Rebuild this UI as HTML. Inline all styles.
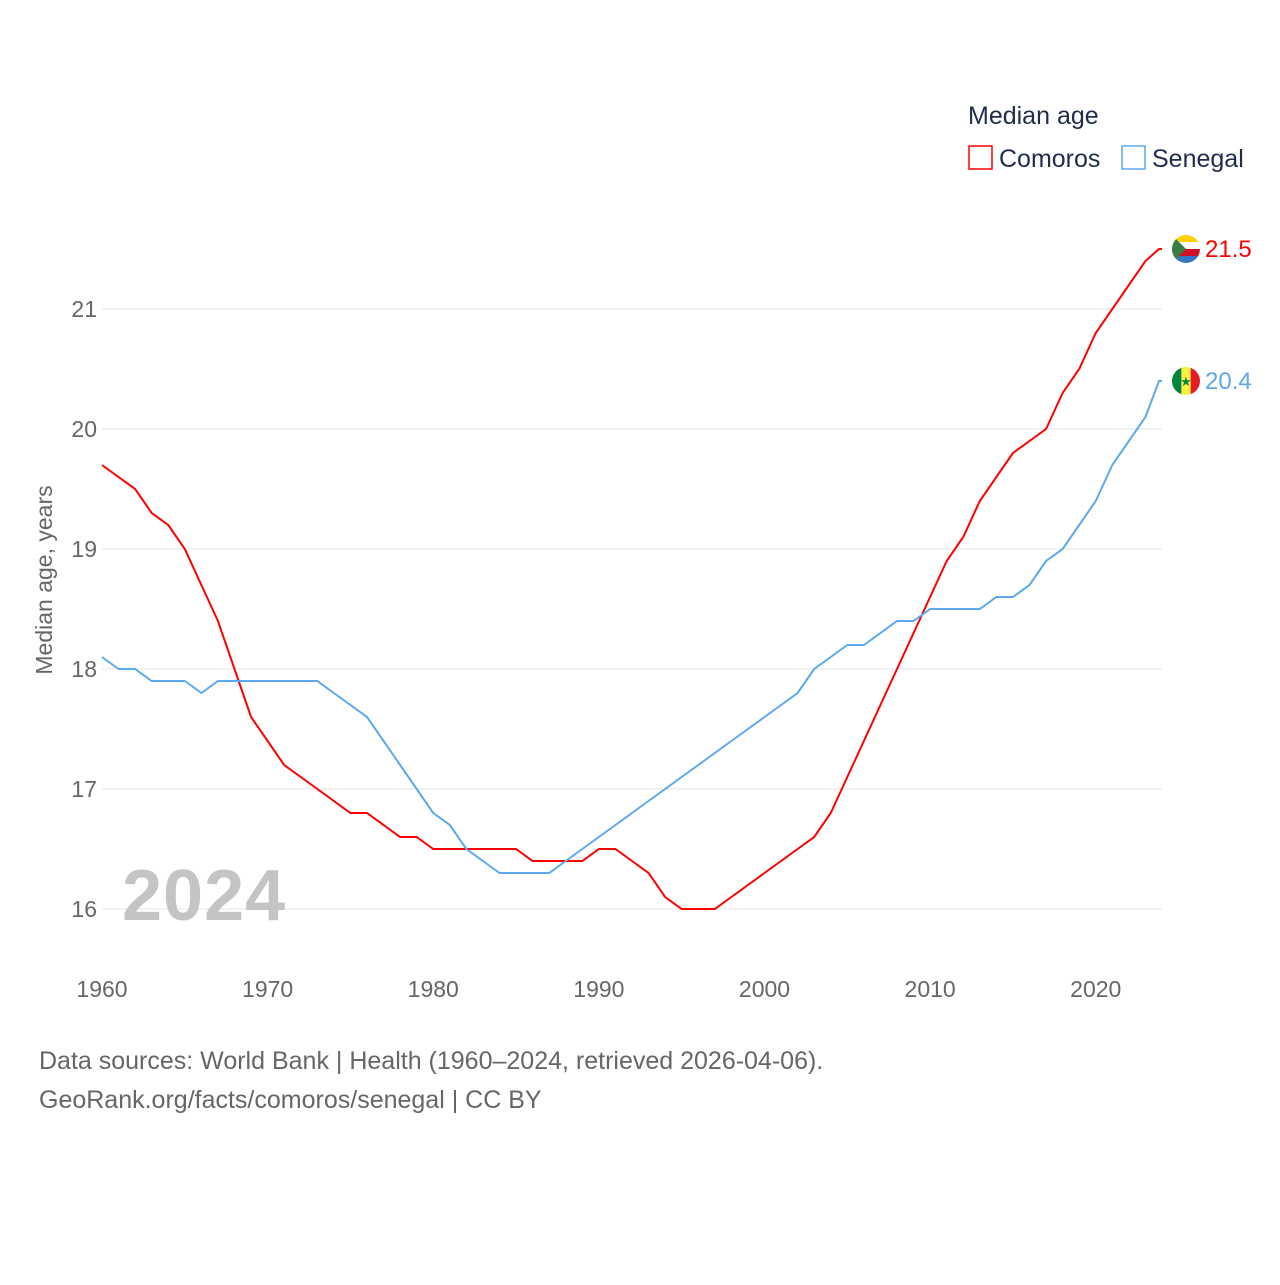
<!DOCTYPE html>
<html><head><meta charset="utf-8"><style>
body{margin:0;background:#fff;font-family:"Liberation Sans",sans-serif;}
svg text{font-family:"Liberation Sans",sans-serif;}
</style></head><body>
<svg width="1280" height="1280" xmlns="http://www.w3.org/2000/svg">
<defs>
<clipPath id="cc"><circle cx="0" cy="0" r="14"/></clipPath>
</defs>
<g id="grid"></g><g id="lines"></g>
<text x="968" y="124" font-size="25" fill="#1f2d4d">Median age</text>
<rect x="969" y="146" width="23" height="23" fill="none" stroke="#ff0000" stroke-width="1.5"/>
<text x="999" y="167" font-size="25" fill="#1f2d4d">Comoros</text>
<rect x="1122" y="146" width="23" height="23" fill="none" stroke="#5ea8ee" stroke-width="1.5"/>
<text x="1152" y="167" font-size="25" fill="#1f2d4d">Senegal</text>
<text x="52" y="580" font-size="23" fill="#666" transform="rotate(-90 52 580)" text-anchor="middle">Median age, years</text>
<text x="122" y="920" font-size="72" font-weight="bold" fill="#c4c4c4" letter-spacing="1">2024</text>
<text x="39" y="1069" font-size="25" fill="#666">Data sources: World Bank | Health (1960–2024, retrieved 2026-04-06).</text>
<text x="39" y="1108" font-size="25" fill="#666">GeoRank.org/facts/comoros/senegal | CC BY</text>
</svg>
<script>
const years=[];for(let y=1960;y<=2024;y++)years.push(y);
const comoros=[19.7,19.6,19.5,19.3,19.2,19.0,18.7,18.4,18.0,17.6,17.4,17.2,17.1,17.0,16.9,16.8,16.8,16.7,16.6,16.6,16.5,16.5,16.5,16.5,16.5,16.5,16.4,16.4,16.4,16.4,16.5,16.5,16.4,16.3,16.1,16.0,16.0,16.0,16.1,16.2,16.3,16.4,16.5,16.6,16.8,17.1,17.4,17.7,18.0,18.3,18.6,18.9,19.1,19.4,19.6,19.8,19.9,20.0,20.3,20.5,20.8,21.0,21.2,21.4,21.5];
const senegal=[18.1,18.0,18.0,17.9,17.9,17.9,17.8,17.9,17.9,17.9,17.9,17.9,17.9,17.9,17.8,17.7,17.6,17.4,17.2,17.0,16.8,16.7,16.5,16.4,16.3,16.3,16.3,16.3,16.4,16.5,16.6,16.7,16.8,16.9,17.0,17.1,17.2,17.3,17.4,17.5,17.6,17.7,17.8,18.0,18.1,18.2,18.2,18.3,18.4,18.4,18.5,18.5,18.5,18.5,18.6,18.6,18.7,18.9,19.0,19.2,19.4,19.7,19.9,20.1,20.4];
const yTicks=[16,17,18,19,20,21];
const xTicks=[1960,1970,1980,1990,2000,2010,2020];
const NS="http://www.w3.org/2000/svg";
const xs=y=>102+(y-1960)*1060/64, ys=v=>909-(v-16)*120;
const g=document.getElementById('grid'),L=document.getElementById('lines');
function mk(t,a,p){const e=document.createElementNS(NS,t);for(const k in a)e.setAttribute(k,a[k]);p.appendChild(e);return e;}
yTicks.forEach(v=>{
 const l=mk('line',{x1:102,x2:1162,y1:ys(v),y2:ys(v),stroke:'#e6e6e6','stroke-width':1},g);
 
 
 const t=mk('text',{x:97,y:ys(v)+8,'font-size':23,fill:'#666','text-anchor':'end'},g);t.textContent=v;
 
 
});
xTicks.forEach(v=>{
 const t=mk('text',{x:xs(v),y:997,'font-size':23,fill:'#666','text-anchor':'middle'},g);t.textContent=v;
 
 
});
function series(d,c,name,stripes,vertical){
 const n=d.length;
 let path=d.map((v,i)=>(i?'L':'M')+xs(years[i])+','+ys(v)).join('');
 path=path.replace(/L[^L]*$/,'')+'L'+(xs(years[n-1])-3)+','+ys(d[n-1])+'L'+xs(years[n-1])+','+ys(d[n-1]);
 const p=mk('path',{d:path,fill:'none',stroke:c,'stroke-width':2},L);
 
 
 const lx=xs(years[n-1]),ly=ys(d[n-1]);
 const fg=mk('g',{transform:'translate('+(lx+24)+','+ly+')','clip-path':'url(#cc)'},L);
 
 
 const k=stripes.length;
 stripes.forEach((col,i)=>{
  if(vertical)mk('rect',{x:-14+i*28/k,y:-14,width:28/k+0.5,height:28,fill:col},fg);
  else mk('rect',{x:-14,y:-14+i*28/k,width:28,height:28/k+0.5,fill:col},fg);
 });
 if(name==='comoros')mk('path',{d:'M-14,-14L0,0L-14,14Z',fill:'#3a7d44'},fg);
 if(name==='senegal')mk('text',{x:0,y:5,'font-size':13,fill:'#00853f','text-anchor':'middle'},fg).textContent='★';
 const t=mk('text',{x:lx+43,y:ly+8,'font-size':24,fill:c},L);t.textContent=d[n-1].toFixed(1);
 
 
}
series(comoros,'#ff0000','comoros',['#ffd100','#ffffff','#ce1126','#3a75c4'],false);
series(senegal,'#5ea8ee','senegal',['#00853f','#fdef42','#e31b23'],true);
</script>
</body></html>
